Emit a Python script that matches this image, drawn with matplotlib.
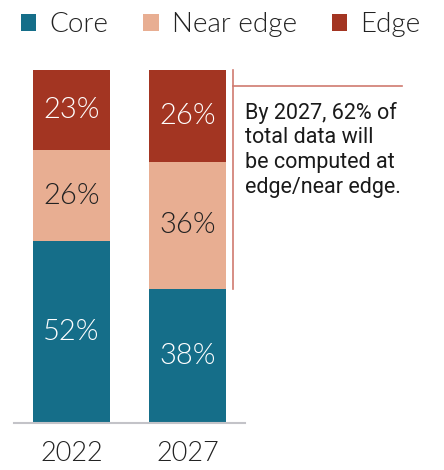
import numpy as np
import matplotlib.pyplot as plt
from matplotlib.patches import Patch

plt.rcParams['font.family'] = ['Lato', 'DejaVu Sans']

years = ['2022', '2027']
segmen = ['Core', 'Near edge', 'Edge']
core = [52, 38]
near_edge = [26, 36]
edge = [23, 26]
warna = ['#156e89', '#e8ae92', '#a33522']
warna_teks = ['white', '#222222', 'white']
catatan = 'By 2027, 62% of\ntotal data will\nbe computed at\nedge/near edge.'

data = np.array([core, near_edge, edge], dtype=float)
share = data / data.sum(axis=0)  # each bar fills the full height
ind = np.arange(len(years))
width = 0.664

fig = plt.figure(figsize=(4.44, 4.70), dpi=100)
ax = fig.add_axes([14 / 444, 47 / 470, 231 / 444, 353 / 470])

bottom = np.zeros(len(years))
for k in range(len(segmen)):
    ax.bar(ind, share[k], width, bottom=bottom, color=warna[k], label=segmen[k])
    for i in ind:
        ax.text(i, bottom[i] + share[k][i] / 2, '{:d}%'.format(int(data[k][i])),
                ha='center', va='center', fontsize=21, color=warna_teks[k],
                fontweight=300)
    bottom += share[k]

ax.set_xlim(-0.496, 1.496)
ax.set_ylim(0, 1)
ax.set_xticks(ind)
ax.set_xticklabels(years, fontsize=19.5, color='#222222', fontweight=300)
ax.tick_params(axis='x', length=0, pad=13)
ax.set_yticks([])
for s in ['top', 'right', 'left']:
    ax.spines[s].set_visible(False)
ax.spines['bottom'].set_color('#c3c3c8')
ax.spines['bottom'].set_linewidth(1.5)

# annotation bracket for edge + near edge in 2027
garis = '#d07a70'
x_ann = 1.392
ax.plot([x_ann, x_ann], [share[0][1], 1.0], color=garis, lw=1.2, clip_on=False)
ax.plot([x_ann, 2.85], [0.955, 0.955], color=garis, lw=1.2, clip_on=False)
ax.text(1.496, 0.91, catatan, ha='left', va='top', fontsize=15.5,
        color='#1a1a1a', linespacing=1.23, clip_on=False, family='Roboto')

handles = [Patch(facecolor=warna[k], label=segmen[k]) for k in range(len(segmen))]
fig.legend(handles=handles, loc='upper left', bbox_to_anchor=(0.01, 1.01), ncol=3,
           frameon=False, handlelength=0.55, handleheight=0.55,
           handletextpad=0.48, columnspacing=1.25, borderaxespad=0.2,
           prop={'size': 20, 'weight': 300}, labelcolor='#222222')

plt.savefig('out.png', dpi=100)
plt.close(fig)
